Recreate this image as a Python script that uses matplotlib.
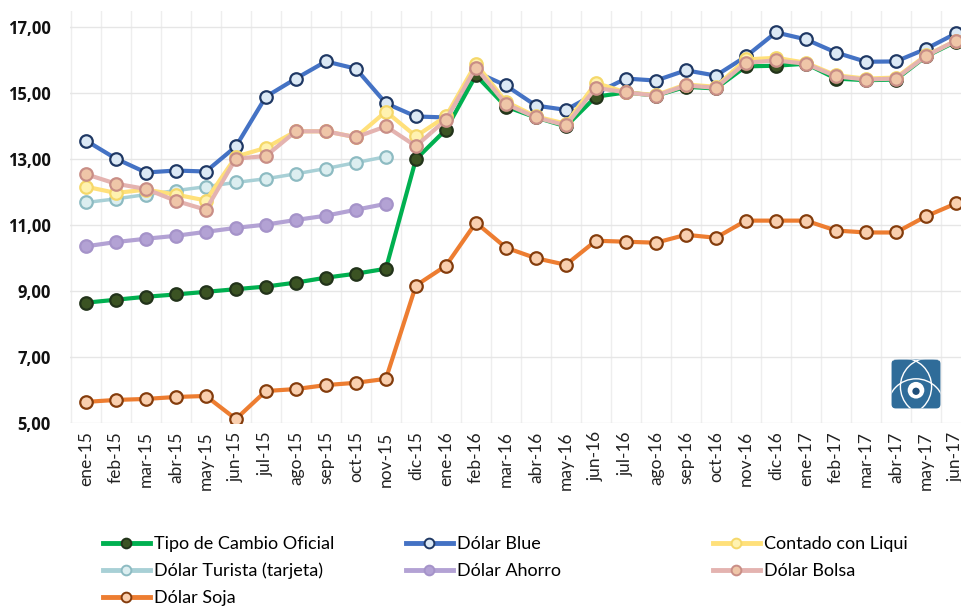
import matplotlib
matplotlib.use("Agg")
import matplotlib.pyplot as plt
from matplotlib.lines import Line2D
from matplotlib.patches import FancyBboxPatch, Circle
from matplotlib.ticker import FixedLocator, FuncFormatter

months = ["ene-15", "feb-15", "mar-15", "abr-15", "may-15", "jun-15", "jul-15", "ago-15",
          "sep-15", "oct-15", "nov-15", "dic-15", "ene-16", "feb-16", "mar-16", "abr-16",
          "may-16", "jun-16", "jul-16", "ago-16", "sep-16", "oct-16", "nov-16", "dic-16",
          "ene-17", "feb-17", "mar-17", "abr-17", "may-17", "jun-17"]

oficial = [8.65, 8.74, 8.83, 8.90, 8.98, 9.06, 9.14, 9.26, 9.41, 9.53, 9.68, 13.00, 13.90,
           15.55, 14.60, 14.27, 14.00, 14.90, 15.03, 14.93, 15.20, 15.15, 15.82, 15.84,
           15.90, 15.45, 15.40, 15.42, 16.12, 16.57]
blue = [13.57, 13.02, 12.60, 12.66, 12.63, 13.39, 14.90, 15.45, 15.97, 15.75, 14.70, 14.30,
        14.27, 15.65, 15.24, 14.63, 14.50, 15.00, 15.45, 15.39, 15.70, 15.54, 16.12, 16.85,
        16.64, 16.24, 15.96, 15.97, 16.35, 16.82]
liqui = [12.17, 11.98, 12.08, 11.93, 11.75, 13.08, 13.35, 13.85, 13.85, 13.67, 14.45, 13.70,
         14.30, 15.90, 14.75, 14.30, 14.08, 15.32, 15.03, 14.95, 15.27, 15.20, 16.03, 16.08,
         15.93, 15.55, 15.45, 15.48, 16.15, 16.60]
turista = [11.69, 11.80, 11.93, 12.05, 12.17, 12.30, 12.41, 12.56, 12.72, 12.90, 13.08]
ahorro = [10.36, 10.49, 10.59, 10.68, 10.80, 10.92, 11.02, 11.16, 11.29, 11.47, 11.65]
bolsa = [12.55, 12.26, 12.10, 11.74, 11.47, 13.02, 13.10, 13.85, 13.85, 13.67, 14.00, 13.40,
         14.20, 15.78, 14.68, 14.27, 14.03, 15.17, 15.03, 14.93, 15.24, 15.17, 15.93, 16.00,
         15.90, 15.52, 15.42, 15.45, 16.13, 16.60]
soja = [5.64, 5.70, 5.73, 5.79, 5.82, 5.12, 5.97, 6.03, 6.15, 6.22, 6.34, 9.17, 9.77, 11.08,
        10.32, 10.00, 9.80, 10.53, 10.50, 10.47, 10.71, 10.62, 11.14, 11.14, 11.14, 10.84,
        10.78, 10.78, 11.27, 11.66]
yticks = [5, 7, 9, 11, 13, 15, 17]

fig = plt.figure(figsize=(9.61, 6.08), dpi=100)
ax = fig.add_axes([70/961, 1-423/608, 891/961, 412/608])

x_all = list(range(len(months)))

styles = [
    ("Tipo de Cambio Oficial", oficial, "#00B050", "#3B5323", "#22331A", 3.0),
    ("Dólar Turista (tarjeta)", turista, "#A8D0D6", "#DCEEF0", "#8DBBC2", 2.5),
    ("Dólar Ahorro", ahorro, "#B3A2D4", "#B3A2D4", "#A593C9", 3.0),
    ("Contado con Liqui", liqui, "#FFE07A", "#FFF2B0", "#F5D86A", 3.0),
    ("Dólar Bolsa", bolsa, "#E4B3B0", "#EFC6A8", "#C98E86", 3.0),
    ("Dólar Blue", blue, "#4472C4", "#DCE9F5", "#1F3864", 3.0),
    ("Dólar Soja", soja, "#ED7D31", "#F9CFAF", "#843C0C", 3.0),
]
order_z = {"Tipo de Cambio Oficial": 4, "Dólar Turista (tarjeta)": 3, "Dólar Ahorro": 3,
           "Contado con Liqui": 5, "Dólar Bolsa": 6, "Dólar Blue": 3, "Dólar Soja": 3}
handles = {}
for name, vals, lc, mfc, mec, lw in styles:
    xs = x_all[:len(vals)]
    ln, = ax.plot(xs, vals, color=lc, lw=lw, marker="o", ms=9, mfc=mfc, mec=mec, mew=1.6,
                  zorder=order_z[name], label=name, solid_capstyle="round")
    handles[name] = ln

ax.set_xlim(-0.53, 29.17)
ax.set_ylim(5, 17.5)
ax.yaxis.set_major_locator(FixedLocator(yticks))
ax.yaxis.set_major_formatter(FuncFormatter(lambda v, p: f"{v:.2f}".replace(".", ",")))
ax.set_xticks(x_all)
ax.set_xticklabels(months, rotation=90, fontsize=12.5, color="#222222", family="Lato")
ax.xaxis.set_minor_locator(FixedLocator([i - 0.5 for i in range(len(months) + 1)]))
for lab in ax.get_yticklabels():
    lab.set_fontweight("bold")
    lab.set_fontsize(12)
    lab.set_family("Open Sans")
    lab.set_color("#111111")
ax.tick_params(axis="both", which="both", length=0)
ax.tick_params(axis="y", pad=14)
ax.tick_params(axis="x", pad=6)
ax.grid(axis="y", which="major", color="#E6E6E6", lw=1.0)
ax.grid(axis="x", which="minor", color="#EEEEEE", lw=1.0)
for s in ax.spines.values():
    s.set_visible(False)
ax.set_axisbelow(True)

# logo
logo_ax = fig.add_axes([890/961, 1-410/608, 52/961, 52/608])
logo_ax.set_xlim(0, 1); logo_ax.set_ylim(0, 1); logo_ax.axis("off")
logo_ax.add_patch(FancyBboxPatch((0.03, 0.03), 0.94, 0.94, boxstyle="round,pad=0,rounding_size=0.08",
                                 fc="#2F6C99", ec="none"))
for cx, cy in [(0.25, 0.45), (0.75, 0.45), (0.5, 0.05)]:
    logo_ax.add_patch(Circle((cx, cy), 0.55, fill=False, ec="white", lw=1.0, clip_on=True))
logo_ax.add_patch(Circle((0.5, 0.38), 0.16, fc="white", ec="none"))
logo_ax.add_patch(Circle((0.5, 0.36), 0.07, fc="#1F4E79", ec="none"))
for p in logo_ax.patches[1:]:
    p.set_clip_path(logo_ax.patches[0])

legend_cols = [
    (["Tipo de Cambio Oficial", "Dólar Turista (tarjeta)", "Dólar Soja"], 103/961),
    (["Dólar Blue", "Dólar Ahorro"], 406/961),
    (["Contado con Liqui", "Dólar Bolsa"], 713/961),
]
for names, xpos in legend_cols:
    hs = []
    for n in names:
        h = handles[n]
        hs.append(Line2D([], [], color=h.get_color(), lw=3.5, marker="o", ms=7,
                         mfc=h.get_markerfacecolor(), mec=h.get_markeredgecolor(), mew=1.4))
    leg = fig.legend(hs, names, loc="upper left", bbox_to_anchor=(xpos, 1-536/608),
                     frameon=False, handlelength=2.6, handletextpad=0.25,
                     labelspacing=0.6, borderaxespad=0, borderpad=0,
                     prop={"family": "Lato", "size": 13})

fig.savefig("out.png", dpi=100)
